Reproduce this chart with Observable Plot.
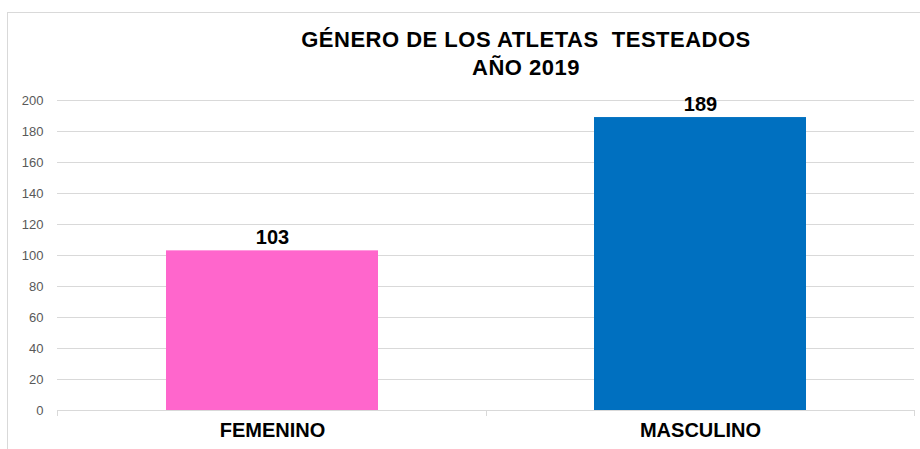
<!DOCTYPE html>
<html>
<head>
<meta charset="utf-8">
<script src="https://cdn.jsdelivr.net/npm/d3@7"></script>
<script src="https://cdn.jsdelivr.net/npm/@observablehq/plot@0.6"></script>
<style>
  html, body { margin: 0; padding: 0; background: #fff; }
  #wrap { position: relative; width: 920px; height: 449px; overflow: hidden; }
  #frame { position: absolute; left: 7px; top: 12px; width: 930px; height: 460px; border: 1px solid #d9d9d9; box-sizing: border-box; }
  #title { position: absolute; left: 0; top: 26px; width: 1052px; text-align: center; font-family: "Liberation Sans", Arial, sans-serif; font-weight: bold; font-size: 22px; line-height: 28px; letter-spacing: 0.5px; color: #000; white-space: nowrap; }
  #chart { position: absolute; left: 0; top: 0; }
</style>
</head>
<body>
<div id="wrap">
  <div id="frame"></div>
  <div id="chart"></div>
  <div id="title">GÉNERO DE LOS ATLETAS&nbsp; TESTEADOS<br>AÑO 2019</div>
</div>
<script>
const categories = ["FEMENINO", "MASCULINO"];
const values = [103, 189];
const colors = ["#FF66CC", "#0070C0"];
const yTicks = [0, 20, 40, 60, 80, 100, 120, 140, 160, 180, 200];

const data = categories.map((c, i) => ({cat: c, value: values[i], color: colors[i]}));

const boundaryTicks = (index, scales, values, dimensions, context) => {
  const x = scales.x, y = scales.y;
  const bw = typeof x.bandwidth === "function" ? x.bandwidth() : x.bandwidth;
  const centers = categories.map(c => x(c) + bw / 2);
  const xs = [dimensions.marginLeft];
  for (let i = 1; i < centers.length; i++) xs.push((centers[i - 1] + centers[i]) / 2);
  xs.push(dimensions.width - dimensions.marginRight);
  const y0 = y(0);
  const g = d3.create("svg:g");
  g.append("line").attr("x1", xs[0]).attr("x2", xs[xs.length - 1]).attr("y1", y0 + 0.5).attr("y2", y0 + 0.5).attr("stroke", "#d9d9d9");
  for (const xv of xs) {
    g.append("line").attr("x1", Math.round(xv) + 0.5).attr("x2", Math.round(xv) + 0.5).attr("y1", y0).attr("y2", y0 + 6).attr("stroke", "#d9d9d9");
  }
  return g.node();
};

const plot = Plot.plot({
  width: 920,
  height: 449,
  marginTop: 100,
  marginBottom: 39,
  marginLeft: 57,
  marginRight: 6,
  style: {background: "transparent", overflow: "visible"},
  x: {domain: categories, paddingInner: 0.505, paddingOuter: 0.2525, label: null, axis: null},
  y: {domain: [0, 200], label: null, axis: null},
  marks: [
    Plot.ruleY(yTicks.filter(d => d > 0), {stroke: "#d9d9d9", strokeWidth: 1}),
    Plot.barY(data, {x: "cat", y: "value", fill: "color"}),
    boundaryTicks,
    Plot.text(data, {x: "cat", y: "value", text: d => String(d.value), dy: -13, fill: "#000", fontSize: 20, fontWeight: "bold", fontFamily: "Liberation Sans, Arial, sans-serif"}),
    Plot.text(data, {x: "cat", text: "cat", frameAnchor: "bottom", dy: 26, fill: "#000", fontSize: 20, fontWeight: "bold", fontFamily: "Liberation Sans, Arial, sans-serif"}),
    Plot.text(yTicks, {y: d => d, text: d => String(d), frameAnchor: "left", textAnchor: "end", dx: -14, fill: "#595959", fontSize: 13, fontFamily: "Liberation Sans, Arial, sans-serif"})
  ]
});
document.getElementById("chart").appendChild(plot);
</script>
</body>
</html>
